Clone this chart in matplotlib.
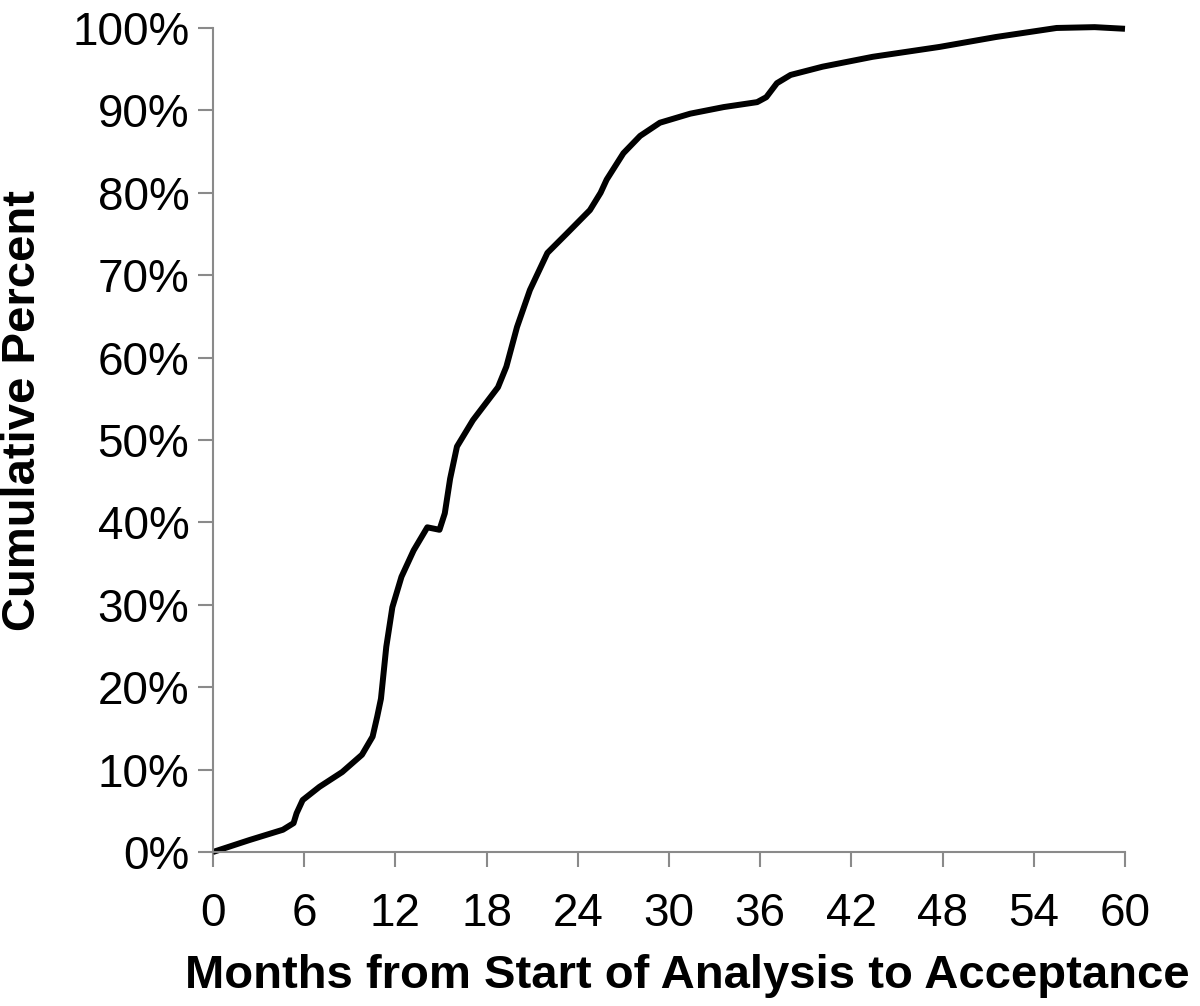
import numpy as np
import matplotlib
matplotlib.use("Agg")
import matplotlib.pyplot as plt
from matplotlib.ticker import FuncFormatter

# values
months = [0, 2.4, 4.6, 5.3, 5.5, 5.9, 7.0, 8.5, 9.8, 10.5, 10.8, 11.05, 11.4,
          11.8, 12.4, 13.2, 14.1, 14.9, 15.25, 15.6, 16.05, 17.1, 18.75, 19.3,
          20.0, 20.85, 22.0, 23.3, 24.8, 25.5, 25.9, 27.0, 28.1, 29.4, 31.4,
          33.6, 35.8, 36.4, 37.1, 38.0, 40.1, 43.4, 47.8, 51.5, 55.5, 58.0,
          60.0]
cum_pct = [0, 1.45, 2.7, 3.5, 4.7, 6.3, 7.9, 9.7, 11.8, 14.0, 16.4, 18.6, 24.9,
           29.7, 33.4, 36.6, 39.4, 39.1, 41.1, 45.3, 49.2, 52.4, 56.4, 58.9,
           63.7, 68.2, 72.7, 75.1, 77.9, 80.0, 81.6, 84.8, 86.9, 88.5, 89.6,
           90.4, 91.0, 91.6, 93.3, 94.3, 95.3, 96.5, 97.7, 98.9, 100.0, 100.1,
           99.9]
x_ticks = list(range(0, 61, 6))
y_ticks = list(range(0, 101, 10))

plt.rcParams["font.family"] = ["Liberation Sans", "DejaVu Sans"]

fig = plt.figure(figsize=(12, 10.06), dpi=100)
ax = fig.add_axes([0.1775, 0.1531, 0.76, 0.8191])

ax.plot(months, cum_pct, color="black", lw=4.3, solid_joinstyle="round",
        solid_capstyle="butt", clip_on=False)

ax.set_xlim(0, 60)
ax.set_ylim(0, 100)
ax.set_xticks(x_ticks)
ax.set_yticks(y_ticks)
ax.yaxis.set_major_formatter(FuncFormatter(lambda v, p: f"{int(v)}%"))

grey = "#8a8a8a"
for s in ["top", "right"]:
    ax.spines[s].set_visible(False)
for s in ["left", "bottom"]:
    ax.spines[s].set_color(grey)
    ax.spines[s].set_linewidth(1.5)

ax.tick_params(axis="both", direction="out", length=11, width=1.5,
               color=grey, labelsize=33, labelcolor="black")
ax.tick_params(axis="y", pad=6)
ax.tick_params(axis="x", pad=18)

ax.set_xlabel("Months from Start of Analysis to Acceptance", fontsize=34,
              fontweight="bold")
ax.set_ylabel("Cumulative Percent", fontsize=34, fontweight="bold")
ax.xaxis.set_label_coords(0.52, -0.124)
ax.yaxis.set_label_coords(-0.184, 0.536)

fig.savefig("out.png", dpi=100)
